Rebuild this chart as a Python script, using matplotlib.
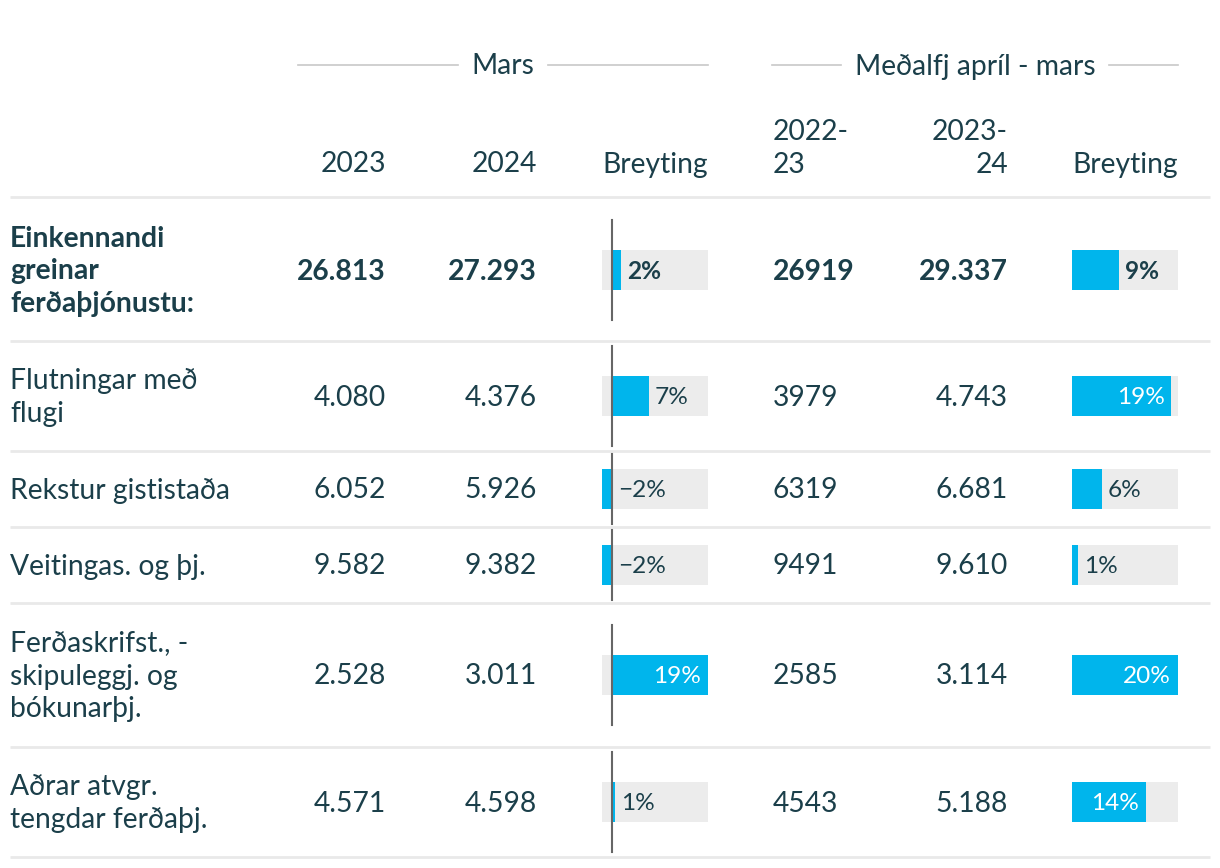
import matplotlib
matplotlib.use("Agg")
import matplotlib.pyplot as plt

plt.rcParams['font.family'] = ['Lato', 'DejaVu Sans']

# ---------------- data ----------------
row_labels = [
    "Einkennandi\ngreinar\nferðaþjónustu:",
    "Flutningar með\nflugi",
    "Rekstur gististaða",
    "Veitingas. og þj.",
    "Ferðaskrifst., -\nskipuleggj. og\nbókunarþj.",
    "Aðrar atvgr.\ntengdar ferðaþj.",
]
mars_2023 = [26813, 4080, 6052, 9582, 2528, 4571]
mars_2024 = [27293, 4376, 5926, 9382, 3011, 4598]
avg_2022_23 = [26919, 3979, 6319, 9491, 2585, 4543]
avg_2023_24 = [29337, 4743, 6681, 9610, 3114, 5188]
group_headers = ["Mars", "Meðalfj apríl - mars"]
col_headers = ["2023", "2024", "Breyting", "2022-\n23", "2023-\n24", "Breyting"]

chg_mars = [(b / a - 1) * 100 for a, b in zip(mars_2023, mars_2024)]
chg_avg = [(b / a - 1) * 100 for a, b in zip(avg_2022_23, avg_2023_24)]

# ---------------- style ----------------
W, H = 1220, 868
TXT = "#1b3f4a"
BLUE = "#00b5ec"
GREY_BG = "#ececec"
BORDER = "#e9e9e9"
FS = 20.3
FS_PCT = 17.6
LS = 1.32

fig = plt.figure(figsize=(W / 100, H / 100), dpi=100)
ax = fig.add_axes([0, 0, 1, 1])
ax.set_xlim(0, W)
ax.set_ylim(H, 0)
ax.axis("off")

# layout (pixels)
row_bounds = [197, 341, 451, 527, 603, 747, 857]
row_centers = [(row_bounds[i] + row_bounds[i + 1]) / 2 for i in range(len(row_labels))]
row_centers[0] = 270
x_label = 10
x_2023 = 386
x_2024 = 537
x_a = 773
x_b = 1008
bar1 = (602, 708)
bar2 = (1072, 1178)
TY = 1.5  # small downward nudge for text


def fmt_dot(v):
    return f"{v:,}".replace(",", ".")


def fmt_pct(v):
    r = int(round(v))
    return ("\u2212" if r < 0 else "") + f"{abs(r)}%"


# group headers with rules
fig.canvas.draw()
renderer = fig.canvas.get_renderer()
for (x0, x1), title in zip([(298, 708), (772, 1178)], group_headers):
    cx = (x0 + x1) / 2
    t = ax.text(cx, 65 + TY, title, ha="center", va="center", fontsize=FS, color=TXT)
    bb = t.get_window_extent(renderer)
    half = bb.width / 2
    ax.plot([x0, cx - half - 14], [65, 65], color="#c8c8c8", lw=1.2)
    ax.plot([cx + half + 14, x1], [65, 65], color="#c8c8c8", lw=1.2)

# column headers
ax.text(x_2023, 163 + TY, col_headers[0], ha="right", va="center", fontsize=FS, color=TXT)
ax.text(x_2024, 163 + TY, col_headers[1], ha="right", va="center", fontsize=FS, color=TXT)
ax.text(bar1[1], 163 + TY, col_headers[2], ha="right", va="center", fontsize=FS, color=TXT)
ax.text(x_a, 147 + TY, col_headers[3], ha="left", va="center", fontsize=FS, color=TXT,
        linespacing=LS, multialignment="left")
ax.text(x_b, 147 + TY, col_headers[4], ha="right", va="center", fontsize=FS, color=TXT,
        linespacing=LS, multialignment="right")
ax.text(bar2[1], 163 + TY, col_headers[5], ha="right", va="center", fontsize=FS, color=TXT)

# borders
for yb in row_bounds:
    ax.plot([10, 1210], [yb, yb], color=BORDER, lw=2, solid_capstyle="butt")

# row texts
for i, lab in enumerate(row_labels):
    yc = row_centers[i] + TY
    fw = "bold" if i == 0 else "normal"
    ax.text(x_label, yc, lab, ha="left", va="center", fontsize=FS, color=TXT,
            fontweight=fw, linespacing=LS, multialignment="left")
    ax.text(x_2023, yc, fmt_dot(mars_2023[i]), ha="right", va="center", fontsize=FS,
            color=TXT, fontweight=fw)
    ax.text(x_2024, yc, fmt_dot(mars_2024[i]), ha="right", va="center", fontsize=FS,
            color=TXT, fontweight=fw)
    ax.text(x_a, yc, f"{avg_2022_23[i]}", ha="left", va="center", fontsize=FS,
            color=TXT, fontweight=fw)
    ax.text(x_b, yc, fmt_dot(avg_2023_24[i]), ha="right", va="center", fontsize=FS,
            color=TXT, fontweight=fw)


def bar_column(px, values, zero_line):
    bax = fig.add_axes([px[0] / W, 0, (px[1] - px[0]) / W, 1])
    lo = min(0, min(values))
    hi = max(0, max(values))
    bax.set_xlim(lo, hi)
    bax.set_ylim(H, 0)
    bax.axis("off")
    bax.barh(row_centers, [hi - lo] * len(values), left=lo, height=40,
             color=GREY_BG, zorder=1)
    bax.barh(row_centers, values, left=0, height=40, color=BLUE, zorder=2)
    if zero_line:
        for i, yc in enumerate(row_centers):
            h = row_bounds[i + 1] - row_bounds[i]
            half = min(50, h / 2 - 3)
            bax.plot([0, 0], [yc - half, yc + half], color="#666666", lw=1.5,
                     zorder=3, clip_on=False)
    for i, (v, yc) in enumerate(zip(values, row_centers)):
        fw = "bold" if i == 0 else "normal"
        frac = v / (hi - lo)
        if frac > 0.55:
            bax.annotate(fmt_pct(v), (v, yc + TY), xytext=(-7, 0), textcoords="offset pixels",
                         ha="right", va="center", fontsize=FS_PCT, color="white",
                         fontweight=fw, zorder=4)
        else:
            bax.annotate(fmt_pct(v), (max(v, 0), yc + TY), xytext=(6, 0),
                         textcoords="offset pixels", ha="left", va="center",
                         fontsize=FS_PCT, color=TXT, fontweight=fw, zorder=4)
    return bax


bar_column(bar1, chg_mars, True)
bar_column(bar2, chg_avg, False)

fig.savefig("out.png", dpi=100)
